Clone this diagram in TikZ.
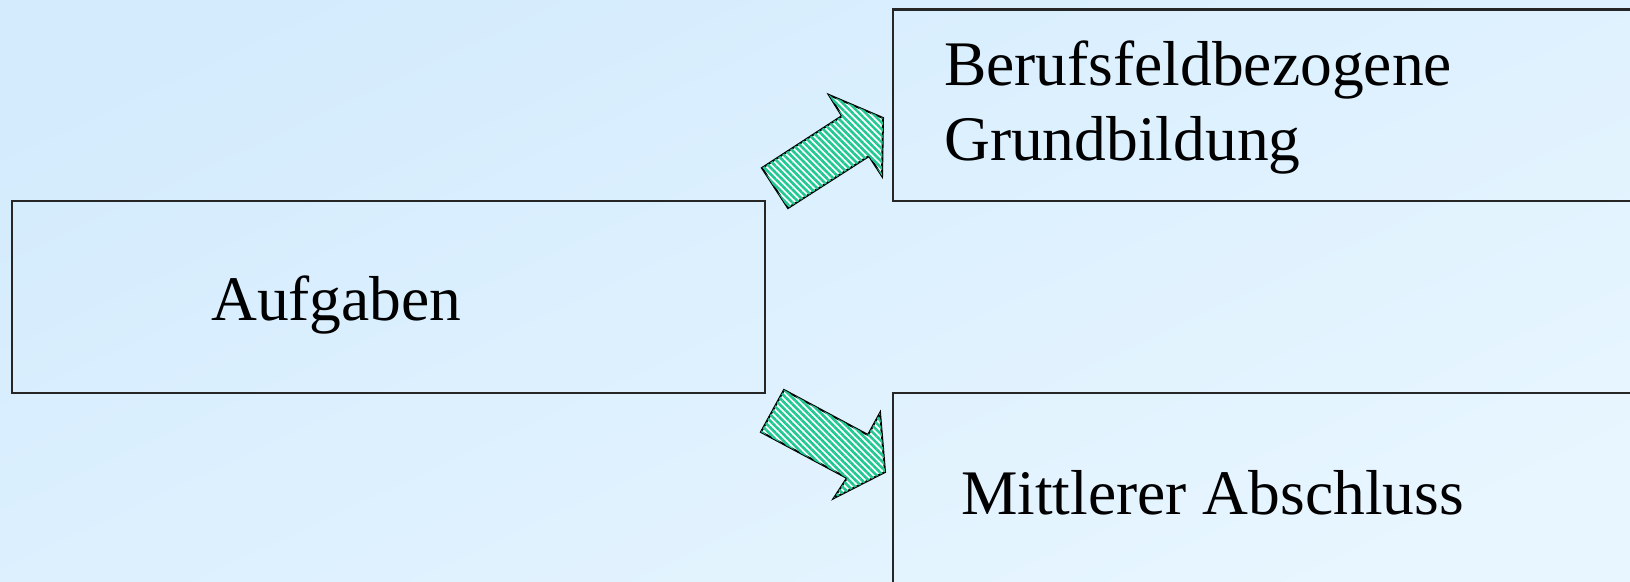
\documentclass[tikz,border=0pt]{standalone}
\usepackage{fontspec}
\setmainfont{Liberation Serif}
\usetikzlibrary{patterns.meta}
\definecolor{bgA}{HTML}{D3EBFD}
\definecolor{bgB}{HTML}{E8F6FF}
\definecolor{stripe}{HTML}{22C893}
\tikzset{
  box/.style={draw=black!85, line width=2.4pt},
  bigarrow/.style={draw=black, line width=2pt, line join=miter,
    fill=white, postaction={pattern={Lines[angle=-45,distance=4.6pt,line width=2.6pt]}, pattern color=stripe}},
  label/.style={anchor=base west, inner sep=0pt, font=\fontsize{63.5}{68}\selectfont, text=black},
}
\begin{document}
\begin{tikzpicture}[x=1pt,y=-1pt]
\useasboundingbox (0,0) rectangle (1630,581);
\shade[shading=axis, top color=bgA, bottom color=bgB, shading angle=25] (-50,-50) rectangle (1680,631);
\clip (0,0) rectangle (1630,581);
% boxes
\draw[box] (12,201) rectangle (765,393);
\draw[box] (893,9.5) rectangle (1640,201);
\draw[box] (893,393) rectangle (1640,600);
% text
\node[label] (t1) at (211,320) {Aufgaben};
\node[label] (t2) at (944,85) {Berufsfeldbezogene};
\node[label] (t3) at (944,160) {Grundbildung};
\node[label] (t4) at (961,514) {Mittlerer Abschluss};
% arrows
\draw[bigarrow] (762,168) -- (842,116) -- (829,95) -- (883,118) -- (882,176) -- (869,156) -- (788,208) -- cycle;
\draw[bigarrow] (784,390) -- (868,435) -- (880,413) -- (885,472) -- (834,498) -- (847,478) -- (761,432) -- cycle;
\end{tikzpicture}
\end{document}
